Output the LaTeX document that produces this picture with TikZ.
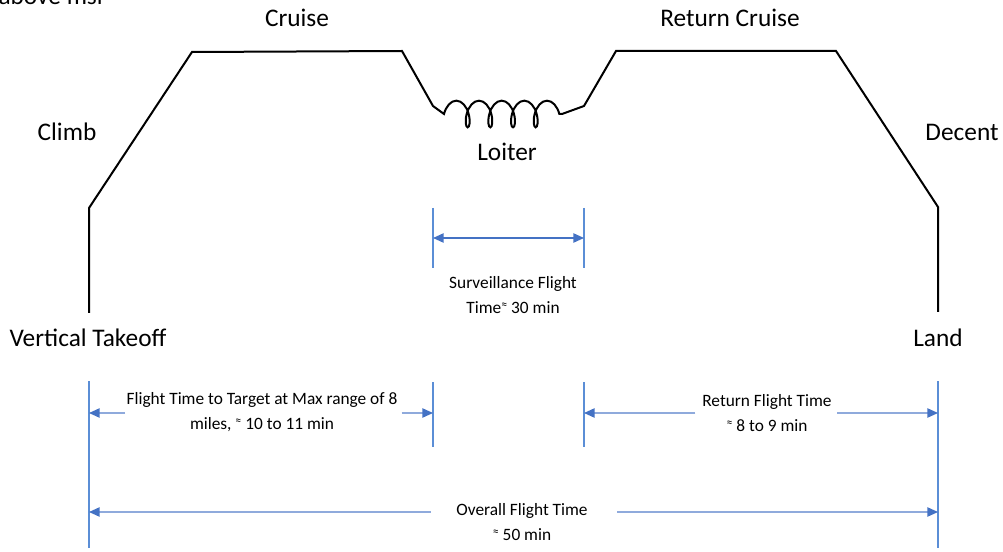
\documentclass[tikz,border=0pt]{standalone}
\usepackage{fontspec}
\setmainfont{Carlito}
\usetikzlibrary{arrows.meta,decorations.pathmorphing}
\definecolor{vline}{RGB}{91,142,214}
\definecolor{arrblue}{RGB}{68,114,196}
\definecolor{lineblue}{RGB}{143,170,220}
\tikzset{
  profile/.style={draw=black, line width=1.5pt, line join=miter},
  vref/.style={draw=vline, line width=0.9pt},
  dimarrow/.style={draw=lineblue, line width=1.1pt, -{Triangle[length=8pt,width=7pt,fill=arrblue,color=arrblue]}},
  biarrow/.style={draw=arrblue, line width=1.1pt, {Triangle[length=8pt,width=7pt]}-{Triangle[length=8pt,width=7pt]}},
  phase/.style={font=\fontsize{19}{22}\selectfont, inner sep=0pt},
  dimtext/.style={font=\fontsize{13}{19}\selectfont, align=center, inner sep=0pt},
}
\newcommand{\approxsup}{\raisebox{0.6ex}{\fontsize{9}{9}\selectfont ≈}}
\begin{document}
\begin{tikzpicture}[x=0.75pt,y=-0.75pt]
\useasboundingbox (0,0) rectangle (1003,552);
\begin{scope}
\clip (0,0) rectangle (1003,552);
\node[phase, anchor=south east] (note) at (103,5) {above msl};
\end{scope}

% profile points
\coordinate (t0) at (89,313);
\coordinate (t1) at (89,208);
\coordinate (c1) at (192,52);
\coordinate (c2) at (402,51);
\coordinate (l0) at (433,106);
\coordinate (l1) at (444,114);
\coordinate (l2) at (562,114);
\coordinate (l3) at (584,106);
\coordinate (r1) at (616,51);
\coordinate (r2) at (836,51);
\coordinate (d1) at (938,207);
\coordinate (d2) at (938,312);

\draw[profile] (t0) -- (t1) -- (c1) -- (c2) -- (l0) -- (l1)
  decorate[decoration={coil, amplitude=10pt, segment length=17pt, aspect=0.5}] {-- (l2)}
  -- (l3) -- (r1) -- (r2) -- (d1) -- (d2);

% phase labels
\node[phase] (cruise) at (297,18) {Cruise};
\node[phase] (rcruise) at (730,18) {Return Cruise};
\node[phase] (climb) at (67,132) {Climb};
\node[phase] (decent) at (962,132) {Decent};
\node[phase] (loiter) at (507,152) {Loiter};
\node[phase] (vto) at (88,338) {Vertical Takeoff};
\node[phase] (land) at (938,338) {Land};

% vertical reference lines
\coordinate (sA) at (433,208); \coordinate (sB) at (433,268);
\coordinate (sC) at (584,208); \coordinate (sD) at (584,268);
\coordinate (vL1) at (89,381); \coordinate (vL2) at (89,548);
\coordinate (vR1) at (938,381); \coordinate (vR2) at (938,548);
\coordinate (vM1) at (433,382); \coordinate (vM2) at (433,447);
\coordinate (vN1) at (584,382); \coordinate (vN2) at (584,447);
\foreach \a/\b in {sA/sB,sC/sD,vL1/vL2,vR1/vR2,vM1/vM2,vN1/vN2}
  \draw[vref] (\a) -- (\b);

% surveillance
\coordinate (s1) at (433,238); \coordinate (s2) at (584,238);
\draw[biarrow] (s1) -- (s2);
\node[dimtext] (surv) at (513,295) {Surveillance Flight\\Time\approxsup\ 30 min};

% flight to target
\coordinate (ta) at (89,413); \coordinate (tb) at (433,413);
\node[dimtext] (tgt) at (262,412) {Flight Time to Target at Max range of 8\\miles, \approxsup\ 10 to 11 min};
\draw[dimarrow] ([xshift=-1pt]tgt.west |- ta) -- (ta);
\draw[dimarrow] ([xshift=3pt]tgt.east |- tb) -- (tb);

% return
\coordinate (ra) at (584,413); \coordinate (rb) at (938,413);
\node[dimtext] (ret) at (767,413) {Return Flight Time\\\approxsup\ 8 to 9 min};
\draw[dimarrow] ([xshift=-5pt]ret.west |- ra) -- (ra);
\draw[dimarrow] ([xshift=4pt]ret.east |- rb) -- (rb);

% overall
\coordinate (oa) at (89,512); \coordinate (ob) at (938,512);
\node[dimtext] (ovr) at (522,522) {Overall Flight Time\\\approxsup\ 50 min};
\draw[dimarrow] ([xshift=-19pt]ovr.west |- oa) -- (oa);
\draw[dimarrow] ([xshift=22pt]ovr.east |- ob) -- (ob);
\end{tikzpicture}
\end{document}
